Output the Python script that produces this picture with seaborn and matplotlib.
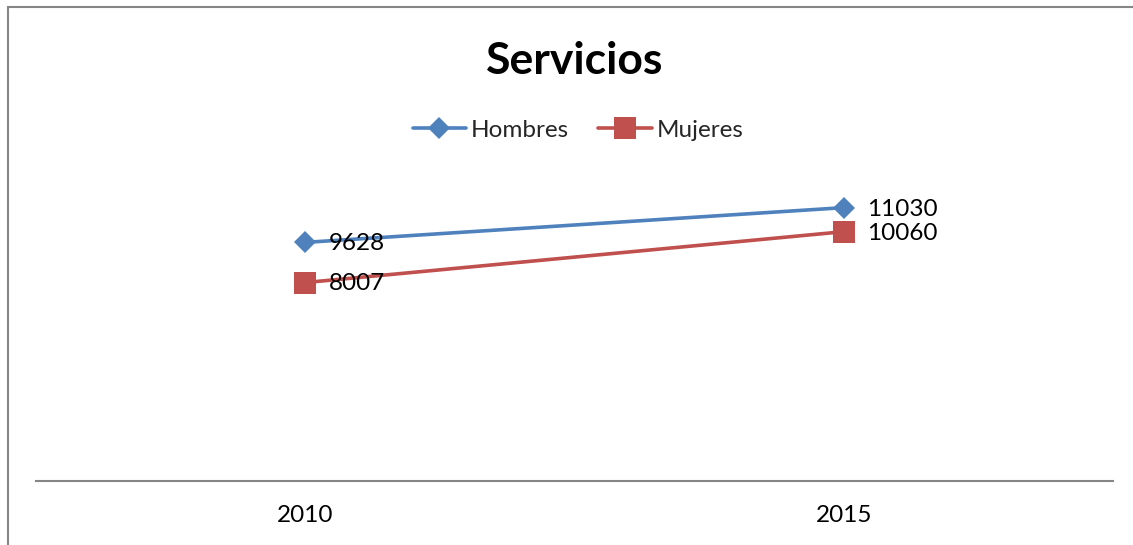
import pandas as pd
import matplotlib.pyplot as plt
import matplotlib.patches as mpatches
import seaborn as sns

# datos del grafico
anios = [2010, 2015]
hombres = [9628, 11030]
mujeres = [8007, 10060]
series = ['Hombres', 'Mujeres']

df = pd.DataFrame({
    'anio': anios * 2,
    'valor': hombres + mujeres,
    'sexo': [series[0]] * len(anios) + [series[1]] * len(anios),
})

sns.set_style('white')
plt.rcParams['font.family'] = ['Lato', 'DejaVu Sans']

colores = {'Hombres': '#4F81BD', 'Mujeres': '#C0504D'}
marcadores = {'Hombres': 'D', 'Mujeres': 's'}

fig = plt.figure(figsize=(11.33, 5.45), dpi=100)
ax = fig.add_axes([0.0318, 0.1174, 0.9505, 0.6367])

sns.lineplot(data=df, x='anio', y='valor', hue='sexo', style='sexo',
             palette=colores, markers=marcadores, dashes=False,
             linewidth=2.6, markersize=11, markeredgewidth=0, ax=ax)
# el cuadrado es algo mas grande
for ln in ax.get_lines():
    if ln.get_marker() == 's':
        ln.set_markersize(16)

# etiquetas de datos
for s in series:
    sub = df[df['sexo'] == s]
    for x, y in zip(sub['anio'], sub['valor']):
        ax.annotate(str(y), (x, y), xytext=(17, -1), textcoords='offset points',
                    ha='left', va='center', fontsize=17.5, color='black')

ax.set_xlim(2007.5, 2017.5)
ax.set_ylim(0, 14000)
ax.set_xticks(anios)
ax.set_xticklabels([str(a) for a in anios], fontsize=17.5, color='black')
ax.set_yticks([])
ax.set_xlabel('')
ax.set_ylabel('')
ax.tick_params(axis='x', length=0, pad=17)
for lado in ['top', 'right', 'left']:
    ax.spines[lado].set_visible(False)
ax.spines['bottom'].set_color('#868686')
ax.spines['bottom'].set_linewidth(1.5)

# leyenda
h, l = ax.get_legend_handles_labels()
ax.legend(h, l, loc='center', bbox_to_anchor=(578 / 1133, 1 - 130 / 545),
          bbox_transform=fig.transFigure, ncol=2, frameon=False, fontsize=17.5,
          handlelength=2.2, columnspacing=1.2, handletextpad=0.2)

fig.text(575 / 1133, 1 - 61 / 545, 'Servicios', ha='center', va='center',
         fontsize=32, fontweight='bold', color='black')

# borde del area del grafico
fig.patches.append(mpatches.Rectangle((8 / 1133, -0.1), 1.2, 1 - 7 / 545 + 0.1,
                                      transform=fig.transFigure, fill=False,
                                      edgecolor='#868686', linewidth=1.5))

fig.savefig('out.png', dpi=100)
